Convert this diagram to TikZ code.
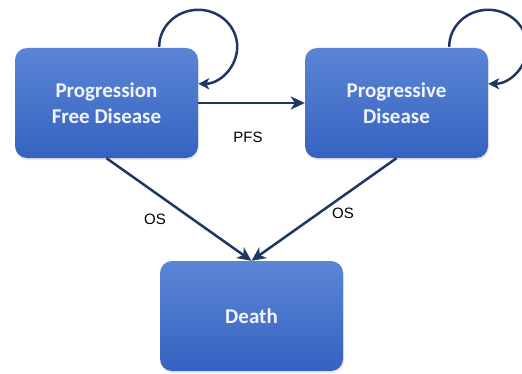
\documentclass[tikz,border=0pt]{standalone}
\usepackage{fontspec}
\setmainfont{Liberation Sans}
\newfontfamily\boxfont{Carlito}
\usetikzlibrary{arrows.meta,shadows}
\definecolor{boxtop}{HTML}{5B86D6}
\definecolor{boxbot}{HTML}{3562C0}
\definecolor{navy}{HTML}{1E3766}
\definecolor{boxtext}{HTML}{F2F4FA}
\tikzset{
  state/.style={rectangle, rounded corners=12pt, minimum width=183pt, minimum height=110pt,
    inner sep=0pt, top color=boxtop, bottom color=boxbot, draw=none,
    drop shadow={opacity=0.18, shadow xshift=1pt, shadow yshift=-2pt},
    text=boxtext, align=center,
    font=\boxfont\bfseries\fontsize{21}{26.5}\selectfont},
  conn/.style={draw=navy, line width=2.5pt,
    -{Stealth[length=14pt,width=13pt,inset=4pt]}},
  loopconn/.style={draw=navy, line width=2.5pt,
    -{Stealth[length=11pt,width=11pt,inset=3pt]}},
  lbl/.style={font=\fontsize{15}{17}\selectfont, text=black}
}
\begin{document}
\begin{tikzpicture}[x=1pt,y=1pt]
\useasboundingbox (0,0) rectangle (522,373);
\node[state] (pfd) at (106.5,270) {Progression\\Free Disease};
\node[state] (pd) at (396.5,270) {Progressive\\Disease};
\node[state] (death) at (251.5,57) {Death};
% self loops
\draw[loopconn] ([xshift=-39pt,yshift=1pt]pfd.north east) arc[start angle=180, end angle=-90, x radius=39pt, y radius=37pt];
\draw[loopconn] ([xshift=-39pt,yshift=1pt]pd.north east) arc[start angle=180, end angle=-90, x radius=39pt, y radius=37pt];
% transitions
\draw[conn] (pfd.east) -- (pd.west);
\draw[conn] (pfd.south) -- (death.north);
\draw[conn] (pd.south) -- (death.north);
% labels
\node[lbl] (pfs) at (248,236) {PFS};
\node[lbl] (os1) at (155,154) {OS};
\node[lbl] (os2) at (343,160) {OS};
\end{tikzpicture}
\end{document}
